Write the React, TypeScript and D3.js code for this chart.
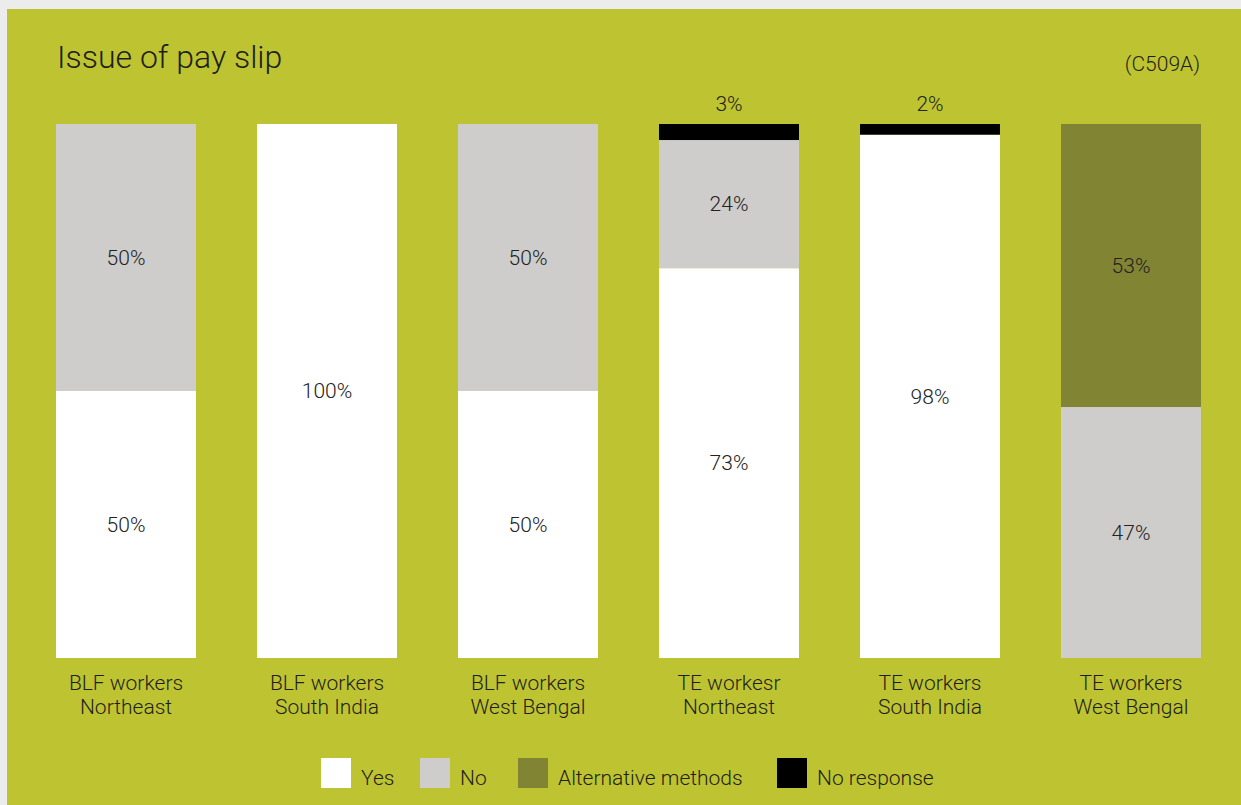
import React from "react";
import * as d3 from "d3";

const categories = [
  ["BLF workers", "Northeast"],
  ["BLF workers", "South India"],
  ["BLF workers", "West Bengal"],
  ["TE workesr", "Northeast"],
  ["TE workers", "South India"],
  ["TE workers", "West Bengal"],
];
const seriesNames = ["Yes", "No", "Alternative methods", "No response"];
const yesValues = [50, 100, 50, 73, 98, 0];
const noValues = [50, 0, 50, 24, 0, 47];
const altValues = [0, 0, 0, 0, 0, 53];
const noResponseValues = [0, 0, 0, 3, 2, 0];
const seriesColors = ["#ffffff", "#cecdcb", "#808433", "#000000"];

const W = 1241;
const H = 805;
const FONT = "Roboto, 'Noto Sans', sans-serif";

export default function App() {
  const keys = categories.map((c) => c.join(" "));
  const rows = keys.map((k, i) => ({
    key: k,
    Yes: yesValues[i],
    No: noValues[i],
    "Alternative methods": altValues[i],
    "No response": noResponseValues[i],
  }));
  const stack = d3.stack<any>().keys(seriesNames)(rows);

  const x = d3
    .scaleBand<string>()
    .domain(keys)
    .range([56, 1201])
    .paddingInner(61 / 201)
    .paddingOuter(0);
  const y = d3.scaleLinear().domain([0, 100]).range([658, 124]);

  const legendX = [321, 420, 518, 777];

  return (
    <>
      <style>{"body{margin:0;}"}</style>
      <svg width={W} height={H} style={{ display: "block", fontFamily: FONT }}>
        <rect x={0} y={0} width={W} height={H} fill="#ececec" />
        <rect x={7} y={9} width={W - 7} height={H - 9} fill="#bec431" />
        <text x={57} y={68} fontSize={32} fontWeight={300} fill="#1e1e1a">
          Issue of pay slip
        </text>
        <text x={1200} y={71} fontSize={21} fontWeight={300} fill="#1e1e1a" textAnchor="end">
          (C509A)
        </text>
        {stack.map((s, si) => (
          <g key={si}>
            {s.map((d, i) => {
              const v = d[1] - d[0];
              if (v <= 0) return null;
              const x0 = x(keys[i]) as number;
              return (
                <rect
                  key={i}
                  x={x0}
                  y={y(d[1])}
                  width={x.bandwidth()}
                  height={y(d[0]) - y(d[1])}
                  fill={seriesColors[si]}
                />
              );
            })}
          </g>
        ))}
        {stack.map((s, si) => (
          <g key={"l" + si}>
            {s.map((d, i) => {
              const v = d[1] - d[0];
              if (v <= 0) return null;
              const cx = (x(keys[i]) as number) + x.bandwidth() / 2;
              const small = v < 5;
              const cy = small ? y(100) - 20 : (y(d[0]) + y(d[1])) / 2;
              return (
                <text
                  key={i}
                  x={cx}
                  y={cy}
                  dy="0.35em"
                  textAnchor="middle"
                  fontSize={21}
                  fontWeight={300}
                  fill="#222"
                >
                  {`${v}%`}
                </text>
              );
            })}
          </g>
        ))}
        {categories.map((c, i) => {
          const cx = (x(keys[i]) as number) + x.bandwidth() / 2;
          return (
            <text key={i} textAnchor="middle" fontSize={21} fontWeight={300} fill="#1e1e1a">
              <tspan x={cx} y={690}>
                {c[0]}
              </tspan>
              <tspan x={cx} y={714}>
                {c[1]}
              </tspan>
            </text>
          );
        })}
        {seriesNames.map((n, i) => (
          <g key={n} transform={`translate(${legendX[i]},758)`}>
            <rect width={30} height={30} fill={seriesColors[i]} />
            <text x={40} y={27} fontSize={21} fontWeight={300} fill="#1e1e1a">
              {n}
            </text>
          </g>
        ))}
      </svg>
    </>
  );
}
